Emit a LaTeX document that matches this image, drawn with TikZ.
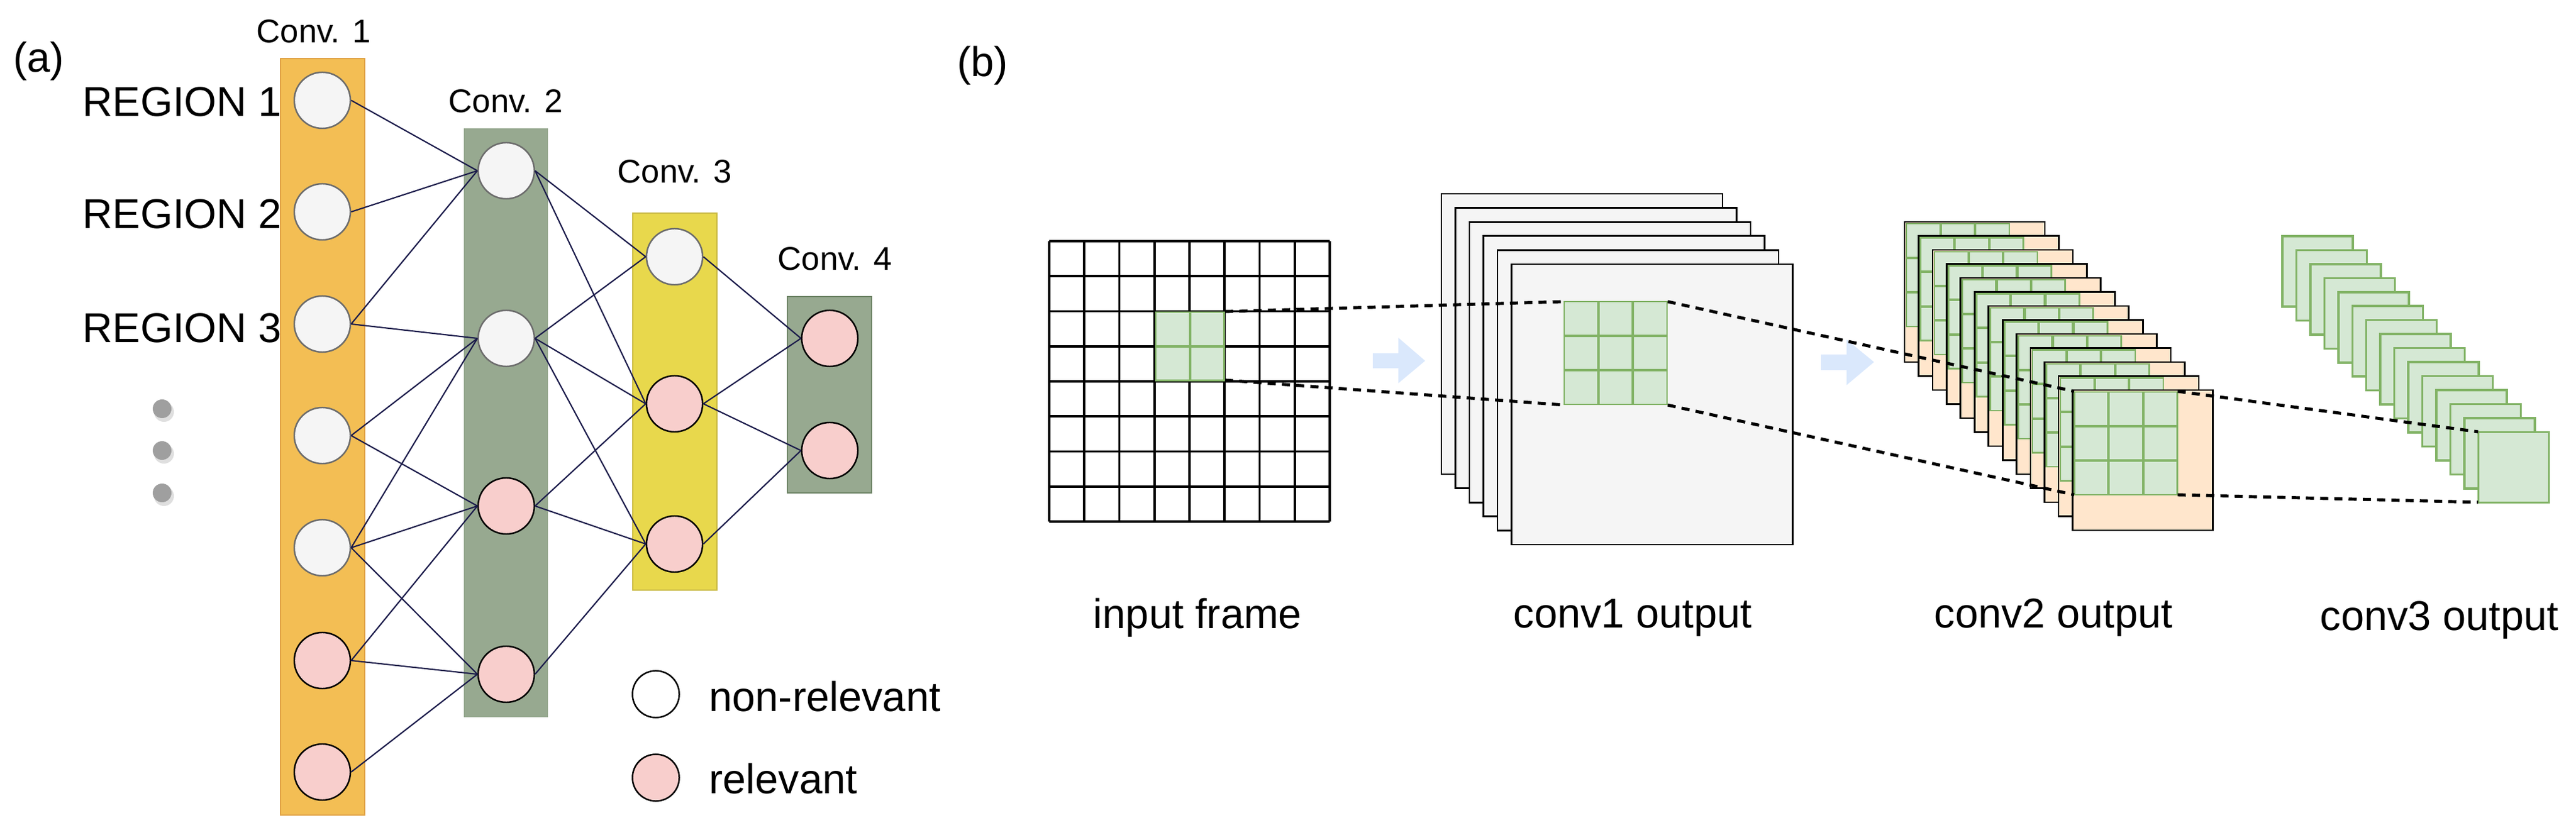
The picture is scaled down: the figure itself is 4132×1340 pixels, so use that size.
\documentclass[tikz,border=0pt]{standalone}
\usepackage{fontspec}
\setmainfont{Liberation Sans}
\definecolor{cone}{HTML}{F3BE54}
\definecolor{conedr}{HTML}{E0A040}
\definecolor{ctwo}{HTML}{97A990}
\definecolor{ctwodr}{HTML}{6E8466}
\definecolor{cthree}{HTML}{E8D84C}
\definecolor{cthreedr}{HTML}{C8B840}
\definecolor{nrfill}{HTML}{F5F5F5}
\definecolor{relfill}{HTML}{F8CECC}
\definecolor{edgec}{HTML}{1A1A4A}
\definecolor{gfill}{HTML}{D5E8D4}
\definecolor{gdraw}{HTML}{82B366}
\definecolor{ofill}{HTML}{FFE6CC}
\definecolor{sheet}{HTML}{F5F5F5}
\definecolor{arr}{HTML}{DAE8FC}
\begin{document}
\begin{tikzpicture}[x=0.01cm,y=-0.01cm,
  nr/.style={circle,draw=gray!85!black,fill=nrfill,minimum size=0.9cm,inner sep=0pt,line width=0.7pt},
  rel/.style={circle,draw=black,fill=relfill,minimum size=0.9cm,inner sep=0pt,line width=0.7pt},
  edge/.style={draw=edgec,line width=0.6pt},
  big/.style={font=\fontsize{19}{22}\selectfont},
  lab/.style={font=\fontsize{15}{18}\selectfont},
  dsh/.style={line width=1.4pt,dash pattern=on 3.7pt off 2.8pt},
  cell/.style={fill=gfill,draw=gdraw,line width=0.8pt},
  dot/.style={circle,fill=gray!75,minimum size=0.3cm,inner sep=0pt}]
\useasboundingbox (0,0) rectangle (4132,1340);
% ---------- (a) ----------
\node[big] (la) at (62,98) {(a)};
\filldraw[fill=cone,draw=conedr,line width=0.8pt] (450,94) rectangle (585,1308);
\filldraw[fill=ctwo,draw=ctwo,line width=0.8pt] (745,207) rectangle (878,1150);
\filldraw[fill=cthree,draw=cthreedr,line width=0.8pt] (1015,342) rectangle (1150,947);
\filldraw[fill=ctwo,draw=ctwodr,line width=0.8pt] (1263,476) rectangle (1398,791);
\node[lab] (l1) at (503,50) {Conv. 1};
\node[lab] (l2) at (811,162) {Conv. 2};
\node[lab] (l3) at (1082,275) {Conv. 3};
\node[lab] (l4) at (1339,415) {Conv. 4};
\node[big,anchor=west] (r1) at (120,164) {REGION 1};
\node[big,anchor=west] (r2) at (120,344) {REGION 2};
\node[big,anchor=west] (r3) at (120,527) {REGION 3};
\foreach \y/\n in {656/1,723/2,791/3}{
  \fill[gray!25] (263,\y+5) circle[radius=0.16cm];
  \node[dot] (d\n) at (260,\y) {};
}
\node[nr] (a1) at (517,161) {};
\node[nr] (a2) at (517,340) {};
\node[nr] (a3) at (517,520) {};
\node[nr] (a4) at (517,699) {};
\node[nr] (a5) at (517,879) {};
\node[rel] (a6) at (517,1060) {};
\node[rel] (a7) at (517,1239) {};
\node[nr] (b1) at (812,274) {};
\node[nr] (b2) at (812,543) {};
\node[rel] (b3) at (812,812) {};
\node[rel] (b4) at (812,1082) {};
\node[nr] (c1) at (1082,412) {};
\node[rel] (c2) at (1082,648) {};
\node[rel] (c3) at (1082,873) {};
\node[rel] (e1) at (1331,543) {};
\node[rel] (e2) at (1331,723) {};
\foreach \s/\t in {a1/b1,a2/b1,a3/b1,a3/b2,a4/b2,a4/b3,a5/b2,a5/b3,a5/b4,a6/b3,a6/b4,a7/b4,
  b1/c1,b1/c2,b2/c1,b2/c2,b2/c3,b3/c2,b3/c3,b4/c3,c1/e1,c2/e1,c2/e2,c3/e2}
  \draw[edge] (\s.east) -- (\t.west);
\node[circle,draw=black,fill=white,minimum size=0.75cm,inner sep=0pt,line width=0.7pt] (g1) at (1052,1114) {};
\node[circle,draw=black,fill=relfill,minimum size=0.75cm,inner sep=0pt,line width=0.7pt] (g2) at (1052,1248) {};
\node[big,anchor=west] (t1) at (1125,1118) {non-relevant};
\node[big,anchor=west] (t2) at (1125,1250) {relevant};
% ---------- (b) ----------
\node[big] (lb) at (1576,105) {(b)};
\fill[white] (1683,387) rectangle (2133,837);
\foreach \i in {0,...,8}{
  \draw[line width=1.1pt] (1683+56.25*\i,387) -- (1683+56.25*\i,837);
  \draw[line width=1.1pt] (1683,387+56.25*\i) -- (2133,387+56.25*\i);
}
\foreach \i in {0,1}\foreach \j in {0,1}
  \draw[cell] (1854+\i*55.5,501+\j*55.5) rectangle ++(54,54);
\fill[arr] (2202,567) -- (2243,567) -- (2243,542) -- (2286,579) -- (2243,615) -- (2243,591) -- (2202,591) -- cycle;
\fill[arr] (2921,569) -- (2962,569) -- (2962,545) -- (3006,581) -- (2962,618) -- (2962,594) -- (2921,594) -- cycle;
\foreach \i in {0,...,5}
  \filldraw[fill=sheet,draw=black,line width=0.8pt] (2312+22.5*\i,311+22.6*\i) rectangle ++(451,450);
\foreach \i in {0,1,2}\foreach \j in {0,1,2}
  \draw[cell] (2509+\i*55.5,484+\j*55.5) rectangle ++(54,54);
\foreach \k in {0,...,12}{
  \filldraw[fill=ofill,draw=black,line width=0.8pt] (3055+22.45*\k,356+22.5*\k) rectangle ++(225,225);
  \foreach \i in {0,1,2}\foreach \j in {0,1,2}
    \draw[cell] (3058+22.45*\k+\i*55.5,359+22.5*\k+\j*55.5) rectangle ++(54,54);
}
\foreach \k in {0,...,14}
  \draw[cell,line width=1pt] (3661+22.45*\k,379+22.45*\k) rectangle ++(113,113);
\coordinate (p1) at (1965,500);
\coordinate (p2) at (1965,610);
\coordinate (q1) at (2509,484);
\coordinate (q2) at (2509,650);
\coordinate (q3) at (2675,484);
\coordinate (q4) at (2675,650);
\coordinate (r1c) at (3327,628);
\coordinate (r2c) at (3327,794);
\coordinate (r3c) at (3493,628);
\coordinate (r4c) at (3493,794);
\coordinate (s1) at (3975,693);
\coordinate (s2) at (3975,806);
\draw[dsh] (p1) -- (q1);
\draw[dsh] (p2) -- (q2);
\draw[dsh] (q3) -- (r1c);
\draw[dsh] (q4) -- (r2c);
\draw[dsh] (r3c) -- (s1);
\draw[dsh] (r4c) -- (s2);
\node[big] (n1) at (1921,991) {input frame};
\node[big] (n2) at (2619,991) {conv1 output};
\node[big] (n3) at (3294,991) {conv2 output};
\node[big] (n4) at (3913,995) {conv3 output};
\end{tikzpicture}
\end{document}
